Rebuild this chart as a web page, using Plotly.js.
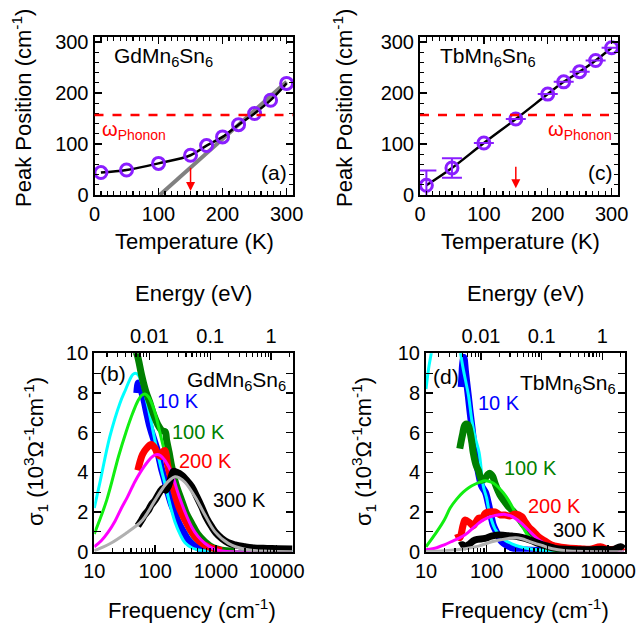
<!DOCTYPE html>
<html>
<head>
<meta charset="utf-8">
<script src="https://cdn.plot.ly/plotly-3.0.1.min.js"></script>
<style>html,body{margin:0;padding:0;background:#fff;}#chart{width:642px;height:629px;}</style>
</head>
<body>
<div id="chart"></div>
<script>
// ---------- Data: panel (a) GdMn6Sn6 peak position ----------
const tempGd = [10, 50, 100, 150, 175, 200, 225, 250, 275, 300];
const peakGd = [44, 49, 62, 78, 97, 114, 138, 160, 186, 219];
const grayLineT = [102, 300];
const grayLineP = [0, 222];

// ---------- Data: panel (c) TbMn6Sn6 peak position ----------
const tempTb = [10, 50, 100, 150, 200, 225, 250, 275, 300];
const peakTb = [19, 53, 102, 149, 198, 222, 242, 264, 289];
const errTb  = [29, 19, 0, 0, 0, 0, 0, 0, 0];

const phononFreq = 157;       // cm^-1 (red dashed line)
const arrowT = 150;           // K (red arrows)
const arrowGd = [70, 8];      // tail, head
const arrowTb = [72, 13];

// ---------- Data: panel (b) GdMn6Sn6 sigma1 ----------
const fB10 = [50, 53, 58, 65, 72, 82, 92, 111, 127, 144, 165, 185, 209, 240, 305, 350, 445, 600, 800];
const sB10 = [8.0, 8.5, 8.2, 7.7, 7.06, 6.3, 5.8, 5.0, 4.2, 3.6, 2.9, 2.4, 2.0, 1.5, 0.9, 0.6, 0.3, 0.1, 0.03];
const fB10fit = [10, 12.4, 18, 26.5, 33, 38.7, 43, 47, 52, 58, 66, 77, 95, 111, 130, 146, 175, 212, 260, 310, 400, 500, 700, 1000, 18000];
const sB10fit = [2.2, 3.5, 5.8, 7.5, 8.2, 8.7, 8.93, 9.0, 8.93, 8.65, 8.1, 7.25, 5.9, 4.9, 4.0, 3.4, 2.4, 1.5, 0.85, 0.45, 0.2, 0.1, 0.03, 0, 0];

const fB100 = [45, 51, 60, 70, 81, 95, 111, 130, 146, 155, 170, 188, 220, 272, 330, 400, 500, 660, 900, 1250, 2000];
const sB100 = [10.3, 9.9, 8.9, 8.1, 7.56, 6.9, 6.4, 6.1, 6.05, 5.6, 5.0, 4.28, 3.4, 2.6, 1.9, 1.43, 0.9, 0.5, 0.2, 0.08, 0.03];
const fB100fit = [10, 16, 25, 33, 43, 52, 60, 68, 78, 90, 104, 120, 144, 175, 212, 270, 350, 450, 660, 900, 1300, 18000];
const sB100fit = [0.9, 2.6, 4.8, 6.0, 7.0, 7.6, 7.88, 7.95, 7.8, 7.4, 6.8, 6.0, 5.0, 3.9, 2.9, 1.9, 1.1, 0.6, 0.25, 0.1, 0.02, 0];

const fB200 = [52, 56, 62, 72, 86, 100, 111, 125, 135, 146, 160, 185, 212, 250, 310, 380, 453, 600, 750, 1000, 1250];
const sB200 = [4.1, 4.5, 4.9, 5.2, 5.4, 5.2, 4.9, 4.8, 5.05, 5.1, 4.4, 3.6, 2.9, 2.2, 1.6, 1.1, 0.76, 0.4, 0.25, 0.12, 0.05];
const fB200fit = [10, 13, 17, 22, 28, 35, 46, 57, 76, 93, 108, 122, 145, 188, 230, 272, 330, 400, 500, 660, 900, 1250, 18000];
const sB200fit = [0.25, 0.55, 1.0, 1.55, 2.2, 2.75, 3.5, 4.0, 4.55, 4.82, 4.9, 4.85, 4.6, 3.95, 3.1, 2.45, 1.8, 1.25, 0.8, 0.42, 0.15, 0.03, 0];

const fB300 = [52, 60, 67, 78, 86, 100, 119, 135, 150, 165, 185, 200, 226, 272, 330, 400, 480, 580, 700, 850, 1000, 1250, 1600, 2070, 3000, 3900, 6000, 10000, 18000];
const sB300 = [1.3, 1.6, 1.85, 2.1, 2.35, 2.6, 3.0, 3.2, 3.1, 3.3, 3.8, 4.05, 4.0, 3.87, 3.6, 3.28, 2.8, 2.27, 1.7, 1.26, 0.95, 0.67, 0.45, 0.34, 0.25, 0.2, 0.17, 0.15, 0.13];
const fB300fit = [10, 18, 34, 56, 68, 100, 146, 180, 212, 250, 310, 453, 660, 970, 1600, 3000, 6000, 18000];
const sB300fit = [0.05, 0.4, 0.95, 1.45, 1.76, 2.6, 3.36, 3.65, 3.78, 3.72, 3.5, 2.77, 1.85, 1.0, 0.42, 0.12, 0.03, 0];

// ---------- Data: panel (d) TbMn6Sn6 sigma1 ----------
const fD10 = [38, 39, 40, 42, 45, 50, 53, 57, 64, 73, 83, 95, 107, 120, 128, 150, 177, 220, 276, 400, 700, 1200, 2000];
const sD10 = [8.3, 8.8, 9.4, 9.8, 9.0, 7.8, 7.1, 6.3, 5.0, 4.0, 3.3, 3.0, 2.4, 1.7, 1.35, 0.9, 0.5, 0.3, 0.17, 0.1, 0.06, 0.04, 0.03];
const fD10fit = [10, 11, 12.5, 15, 20, 27, 33, 36, 40, 45, 50, 57, 64, 75, 88, 100, 107, 120, 137, 166, 200, 260, 355, 500, 1000, 2000, 18000];
const sD10fit = [8.2, 9.2, 10.2, 12, 14, 13.5, 11.5, 10.3, 9.4, 8.6, 7.9, 6.6, 5.8, 5.0, 3.3, 2.7, 2.2, 1.6, 1.15, 0.8, 0.58, 0.4, 0.25, 0.15, 0.05, 0.02, 0];

const fD100 = [36, 40, 44, 49, 53, 57, 60, 68, 73, 83, 95, 105, 113, 125, 137, 166, 200, 228, 295, 430, 710, 1000, 1340, 2000];
const sD100 = [5.2, 5.9, 6.4, 6.4, 6.05, 5.5, 5.0, 4.3, 4.1, 3.6, 3.7, 3.9, 3.95, 3.8, 3.45, 2.86, 2.5, 2.27, 1.93, 1.26, 0.67, 0.4, 0.25, 0.12];
const fD100fit = [10, 15, 20, 25, 32, 41, 52, 64, 80, 94, 107, 130, 155, 190, 228, 280, 333, 410, 490, 620, 810, 1340, 2500, 18000];
const sD100fit = [0.25, 1.0, 1.6, 2.2, 2.65, 3.0, 3.25, 3.4, 3.52, 3.57, 3.55, 3.45, 3.25, 2.95, 2.6, 2.1, 1.6, 1.15, 0.76, 0.45, 0.25, 0.05, 0.01, 0];

const fD200 = [33, 36, 41, 44, 53, 60, 73, 85, 94, 110, 137, 170, 200, 240, 295, 380, 430, 490, 600, 710, 900, 1180, 2000, 3500, 5000, 7500, 10000, 15000, 18000];
const sD200 = [0.9, 0.7, 1.35, 1.6, 1.45, 1.3, 1.68, 1.7, 1.93, 2.0, 2.0, 1.85, 1.85, 1.8, 1.9, 1.76, 1.5, 1.26, 1.0, 0.76, 0.55, 0.34, 0.2, 0.15, 0.12, 0.25, 0.12, 0.15, 0.25];
const fD200fit = [10, 15, 20, 28, 36, 44, 60, 73, 90, 121, 160, 200, 250, 295, 360, 430, 520, 630, 800, 1040, 1500, 2000, 4000, 18000];
const sD200fit = [0.1, 0.2, 0.35, 0.55, 0.7, 0.85, 1.2, 1.43, 1.62, 1.78, 1.86, 1.88, 1.8, 1.68, 1.48, 1.26, 1.0, 0.76, 0.5, 0.3, 0.13, 0.07, 0.01, 0];

const fD300 = [36, 40, 44, 50, 64, 94, 120, 155, 200, 260, 330, 430, 560, 710, 1000, 1340, 2000, 3000, 5000, 8000, 12000, 16000, 18000];
const sD300 = [0.3, 0.35, 0.25, 0.35, 0.59, 0.67, 0.78, 0.84, 0.82, 0.79, 0.75, 0.67, 0.55, 0.42, 0.28, 0.17, 0.12, 0.1, 0.1, 0.12, 0.1, 0.25, 0.15];
const fD300fit = [10, 20, 44, 73, 121, 170, 228, 300, 380, 500, 630, 850, 1040, 1500, 2000, 4000, 18000];
const sD300fit = [0.01, 0.05, 0.15, 0.28, 0.5, 0.6, 0.67, 0.7, 0.65, 0.52, 0.42, 0.3, 0.2, 0.1, 0.05, 0.01, 0];

const tempLabels = ['10 K', '100 K', '200 K', '300 K'];
const cmPerEV = 8065.54;

// ---------- Styles ----------
const W = 642, H = 629;
const FONT = 'Liberation Sans, Arial, sans-serif';
const PURPLE = '#8a1eff';
const dataColors = ['#0000ff', '#008000', '#ff0000', '#000000'];
const fitColors  = ['#00ffff', '#11ee11', '#ff00ff', '#b0b0b0'];
const px = v => v / W;
const py = v => 1 - v / H;

const traces = [];
// Panel (a)
traces.push({x: grayLineT, y: grayLineP, xaxis: 'x', yaxis: 'y', mode: 'lines',
  line: {color: '#808080', width: 4}, hoverinfo: 'skip'});
traces.push({x: tempGd, y: peakGd, xaxis: 'x', yaxis: 'y', mode: 'lines',
  line: {color: '#000', width: 2.5, shape: 'spline'}});
traces.push({x: tempGd, y: peakGd, xaxis: 'x', yaxis: 'y', mode: 'markers',
  marker: {symbol: 'circle-open', size: 12, color: PURPLE, line: {width: 3, color: PURPLE}}});
// Panel (c)
traces.push({x: tempTb, y: peakTb, xaxis: 'x2', yaxis: 'y2', mode: 'lines',
  line: {color: '#000', width: 2.5, shape: 'spline'}});
traces.push({x: tempTb, y: peakTb, xaxis: 'x2', yaxis: 'y2', mode: 'markers',
  error_y: {type: 'data', array: errTb, visible: true, color: PURPLE, thickness: 2, width: 10},
  marker: {symbol: 'circle-open', size: 12, color: PURPLE, line: {width: 3, color: PURPLE}}});

// Spectra
function addSpec(f, s, xa, ya, color, width) {
  traces.push({x: f, y: s, xaxis: xa, yaxis: ya, mode: 'lines',
    line: {color: color, width: width, shape: 'spline', smoothing: 1.0}});
}
const bData = [[fB10, sB10, fB10fit, sB10fit], [fB100, sB100, fB100fit, sB100fit],
               [fB200, sB200, fB200fit, sB200fit], [fB300, sB300, fB300fit, sB300fit]];
const dData = [[fD10, sD10, fD10fit, sD10fit], [fD100, sD100, fD100fit, sD100fit],
               [fD200, sD200, fD200fit, sD200fit], [fD300, sD300, fD300fit, sD300fit]];
bData.forEach((d, i) => { addSpec(d[0], d[1], 'x3', 'y3', dataColors[i], 7); addSpec(d[2], d[3], 'x3', 'y3', fitColors[i], 3); });
dData.forEach((d, i) => { addSpec(d[0], d[1], 'x4', 'y4', dataColors[i], 7); addSpec(d[2], d[3], 'x4', 'y4', fitColors[i], 3); });
// empty traces so the top (energy) axes are built
traces.push({x: [], y: [], xaxis: 'x5', yaxis: 'y3', mode: 'lines', hoverinfo: 'skip'});
traces.push({x: [], y: [], xaxis: 'x6', yaxis: 'y4', mode: 'lines', hoverinfo: 'skip'});

// tick helpers (positions of log ticks)
function logMinor(lo, hi) { const out = []; for (let e = -4; e <= 5; e++) for (let m = 2; m <= 9; m++) { const v = m * Math.pow(10, e); if (v > lo && v < hi) out.push(v); } return out; }

const tickFont = {family: FONT, size: 20, color: '#000'};
const fMin = 10, fMaxB = 18300, fMaxD = 19000;

function linAxis(domain, range, dtick, minorDtick, anchor, extra) {
  return Object.assign({domain: domain, range: range, anchor: anchor, dtick: dtick, tick0: 0,
    ticks: 'inside', ticklen: 7, tickwidth: 1.5, tickcolor: '#000',
    minor: {dtick: minorDtick, ticks: 'inside', ticklen: 4, tickwidth: 1.2, tickcolor: '#000'},
    showline: true, linewidth: 2, linecolor: '#000', mirror: 'allticks', showgrid: false, zeroline: false,
    tickfont: tickFont}, extra || {});
}
function logAxis(domain, lo, hi, anchor, vals, texts, extra) {
  return Object.assign({domain: domain, type: 'log', range: [Math.log10(lo), Math.log10(hi)], anchor: anchor,
    tickmode: 'array', tickvals: vals, ticktext: texts,
    ticks: 'inside', ticklen: 7, tickwidth: 1.5, tickcolor: '#000',
    minor: {tickmode: 'array', tickvals: logMinor(lo, hi), ticks: 'inside', ticklen: 4, tickwidth: 1.2, tickcolor: '#000'},
    showline: true, linewidth: 2, linecolor: '#000', showgrid: false, zeroline: false,
    tickfont: tickFont}, extra || {});
}

const yTop = [py(195), py(37)];
const yBot = [py(551.7), py(353.3)];
const fVals = [10, 100, 1000, 10000], fText = ['10', '100', '1000', '10000'];
const eVals = [0.01, 0.1, 1], eText = ['0.01', '0.1', '1'];

const layout = {
  width: W, height: H, margin: {l: 0, r: 0, t: 0, b: 0},
  paper_bgcolor: '#fff', plot_bgcolor: 'rgba(0,0,0,0)', showlegend: false,
  font: {family: FONT, color: '#000'},
  xaxis:  linAxis([px(94.5), px(293)], [0, 310], 100, 10, 'y'),
  yaxis:  linAxis(yTop, [0, 310], 100, 20, 'x'),
  xaxis2: linAxis([px(420), px(618)], [0, 310], 100, 10, 'y2'),
  yaxis2: linAxis(yTop, [0, 310], 100, 20, 'x2'),
  xaxis3: logAxis([px(94.3), px(292.7)], fMin, fMaxB, 'y3', fVals, fText),
  yaxis3: linAxis(yBot, [0, 10], 2, 1, 'x3'),
  xaxis4: logAxis([px(426), px(625)], fMin, fMaxD, 'y4', fVals, fText),
  yaxis4: linAxis(yBot, [0, 10], 2, 1, 'x4'),
  xaxis5: logAxis([px(94.3), px(292.7)], fMin / cmPerEV, fMaxB / cmPerEV, 'y3', eVals, eText,
    {overlaying: 'x3', side: 'top'}),
  xaxis6: logAxis([px(426), px(625)], fMin / cmPerEV, fMaxD / cmPerEV, 'y4', eVals, eText,
    {overlaying: 'x4', side: 'top'}),
  shapes: [
    {type: 'line', xref: 'x domain', yref: 'y', x0: 0, x1: 1, y0: phononFreq, y1: phononFreq,
     line: {color: '#ff0000', width: 2.5, dash: 'dash'}},
    {type: 'line', xref: 'x2 domain', yref: 'y2', x0: 0, x1: 1, y0: phononFreq, y1: phononFreq,
     line: {color: '#ff0000', width: 2.5, dash: 'dash'}}
  ],
  annotations: []
};

function note(text, x, y, size, color, angle) {
  layout.annotations.push({text: text, xref: 'paper', yref: 'paper', x: px(x), y: py(y),
    xanchor: 'center', yanchor: 'middle', showarrow: false, textangle: angle || 0,
    font: {family: FONT, size: size, color: color || '#000'}});
}
// axis titles
note('Temperature (K)', 194, 241, 22);
note('Temperature (K)', 520, 241, 22);
note('Peak Position (cm<sup>-1</sup>)', 22, 108, 22, '#000', -90);
note('Peak Position (cm<sup>-1</sup>)', 343, 108, 22, '#000', -90);
note('Frequency (cm<sup>-1</sup>)', 192, 609, 22);
note('Frequency (cm<sup>-1</sup>)', 525, 609, 22);
note('Energy (eV)', 193, 293, 22);
note('Energy (eV)', 525, 293, 22);
note('σ<sub>1</sub> (10<sup>3</sup>Ω<sup>-1</sup>cm<sup>-1</sup>)', 35, 452, 22, '#000', -90);
note('σ<sub>1</sub> (10<sup>3</sup>Ω<sup>-1</sup>cm<sup>-1</sup>)', 363, 452, 22, '#000', -90);
// panel labels
note('GdMn<sub>6</sub>Sn<sub>6</sub>', 164, 57, 21);
note('ω<sub>Phonon</sub>', 134, 130, 20, '#ff0000');
note('(a)', 274, 172, 21);
note('TbMn<sub>6</sub>Sn<sub>6</sub>', 488, 57, 21);
note('ω<sub>Phonon</sub>', 580, 130, 20, '#ff0000');
note('(c)', 600, 172, 21);
note('(b)', 113, 373, 21);
note('GdMn<sub>6</sub>Sn<sub>6</sub>', 236, 381, 21);
note('(d)', 446, 376, 21);
note('TbMn<sub>6</sub>Sn<sub>6</sub>', 568, 384, 21);
const bLab = [[178, 401], [198, 432], [205, 461], [239, 500]];
const dLab = [[499, 403], [530, 468], [554, 506], [579, 530]];
tempLabels.forEach((t, i) => { note(t, bLab[i][0], bLab[i][1], 20, dataColors[i]); note(t, dLab[i][0], dLab[i][1], 20, dataColors[i]); });

[['x', 'y', arrowGd], ['x2', 'y2', arrowTb]].forEach(a => {
  layout.annotations.push({xref: a[0], yref: a[1], axref: a[0], ayref: a[1], x: arrowT, y: a[2][1], ax: arrowT, ay: a[2][0],
    text: ' ', showarrow: true, arrowhead: 2, arrowsize: 1.2, arrowwidth: 1.5, arrowcolor: '#ff0000', standoff: 0});
});

Plotly.newPlot('chart', traces, layout, {staticPlot: true, displayModeBar: false});
</script>
</body>
</html>
